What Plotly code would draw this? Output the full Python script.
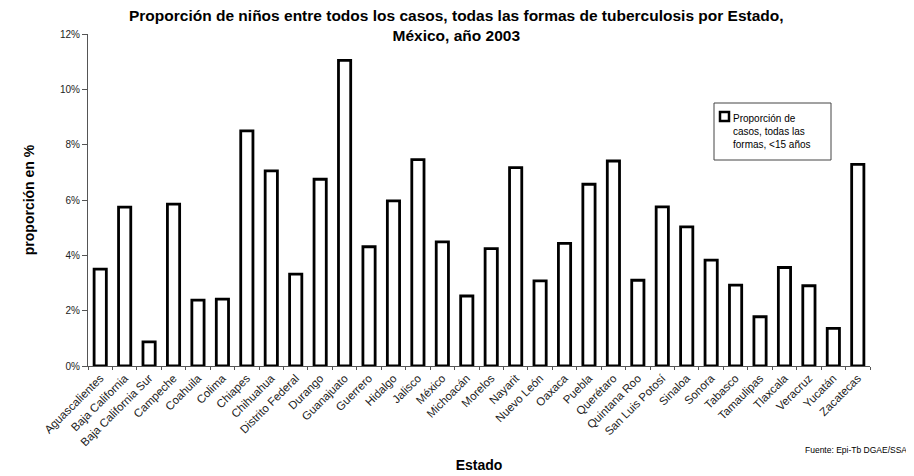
import plotly.graph_objects as go

estados = ["Aguascalientes", "Baja California", "Baja California Sur", "Campeche", "Coahuila",
           "Colima", "Chiapes", "Chihuahua", "Distrito Federal", "Durango", "Guanajuato",
           "Guerrero", "Hidalgo", "Jalisco", "México", "Michoacán", "Morelos", "Nayarit",
           "Nuevo León", "Oaxaca", "Puebla", "Querétaro", "Quintana Roo", "San Luis Potosí",
           "Sinaloa", "Sonora", "Tabasco", "Tamaulipas", "Tlaxcala", "Veracruz", "Yucatán",
           "Zacatecas"]
proporcion = [3.5, 5.74, 0.87, 5.85, 2.38, 2.42, 8.5, 7.05, 3.32, 6.75, 11.05,
              4.31, 5.97, 7.46, 4.49, 2.53, 4.24, 7.17, 3.08, 4.43, 6.57, 7.41,
              3.10, 5.75, 5.03, 3.83, 2.92, 1.78, 3.56, 2.90, 1.36, 7.29]
y_ticks = [0, 2, 4, 6, 8, 10, 12]
legend_text = "Proporción de<br>casos, todas las<br>formas, <15 años"

FONT = "Liberation Sans, Arial, sans-serif"

# page body adds a small offset; compensate so the plot area lands at
# screen x 86..868, y 34..366
fig = go.Figure()
fig.add_trace(go.Bar(
    x=estados, y=proporcion,
    name="Proporción de casos, todas las formas, <15 años",
    marker=dict(color="white", line=dict(color="black", width=2.8)),
    width=0.5,
    showlegend=False,
))

fig.update_layout(
    width=906, height=468,
    margin=dict(l=80, r=44, t=26, b=110),
    paper_bgcolor="white", plot_bgcolor="white",
    font=dict(family=FONT, color="black", size=10),
    showlegend=False,
)

def px_x(px):
    return (px - 86) / 782

def px_y(py):
    return (366 - py) / 332

# title
fig.add_annotation(
    text="Proporción de niños entre todos los casos, todas las formas de tuberculosis por Estado,<br>México, año 2003",
    xref="paper", yref="paper", x=px_x(454), y=px_y(25.5),
    xanchor="center", yanchor="middle", showarrow=False,
    font=dict(family=FONT, size=15.5, color="black", weight="bold"),
)

fig.update_xaxes(
    type="category", automargin=False,
    tickangle=-45,
    tickfont=dict(family=FONT, size=11.5, color="#222"),
    showline=True, linecolor="#555", linewidth=1,
    ticks="outside", ticklen=3, tickcolor="#555", tickson="boundaries",
    showgrid=False,
    title=dict(text="Estado", font=dict(family=FONT, size=14, weight="bold"), standoff=12),
)
fig.update_yaxes(
    range=[0, 12], automargin=False,
    tickvals=y_ticks,
    ticktext=[f"{v}%" for v in y_ticks],
    tickfont=dict(family=FONT, size=10, color="#222"),
    showline=True, linecolor="#555", linewidth=1,
    ticks="outside", ticklen=5, tickcolor="#555",
    showgrid=False, zeroline=False,
    title=dict(text="proporción en %", font=dict(family=FONT, size=14, weight="bold"), standoff=22),
)

# legend box
fig.add_shape(type="rect", xref="paper", yref="paper",
              x0=px_x(712), x1=px_x(829), y0=px_y(160), y1=px_y(103),
              line=dict(color="#444", width=1), fillcolor="white", layer="above")
fig.add_shape(type="rect", xref="paper", yref="paper",
              x0=px_x(718), x1=px_x(727), y0=px_y(121), y1=px_y(112),
              line=dict(color="black", width=2.5), fillcolor="white", layer="above")
fig.add_annotation(
    text=legend_text, xref="paper", yref="paper",
    x=px_x(729), y=px_y(131.5), xanchor="left", yanchor="middle", align="left",
    showarrow=False, font=dict(family=FONT, size=10, color="black"),
)

fig.add_annotation(
    text="Fuente: Epi-Tb DGAE/SSA", xref="paper", yref="paper",
    x=px_x(907), y=px_y(450), xanchor="right", yanchor="middle", showarrow=False,
    font=dict(family=FONT, size=8.5, color="black"),
)

fig.write_html("out.html")
